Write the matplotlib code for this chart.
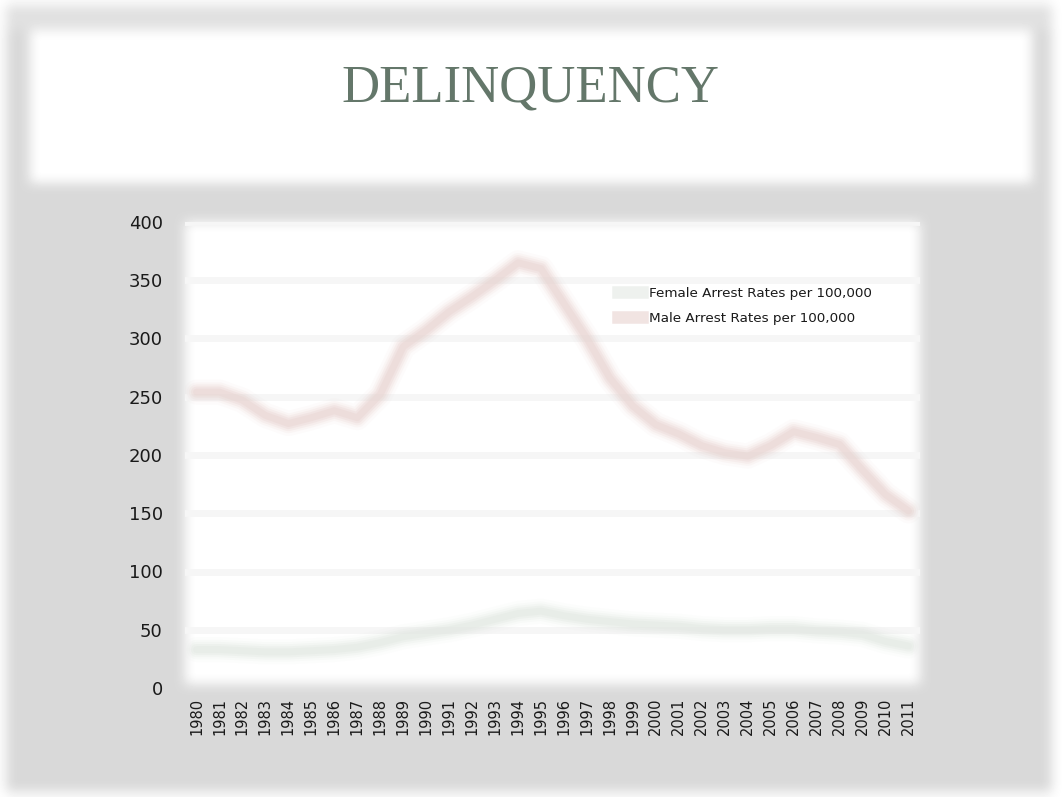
import numpy as np
import matplotlib
matplotlib.use("Agg")
import matplotlib.pyplot as plt

# Dades llegides del gràfic (taxes d'arrest per 100.000)
years = list(range(1980, 2012))
male = [254, 254, 247, 234, 227, 232, 238, 232, 252, 293, 307, 323, 336, 350, 365, 360,
        330, 300, 266, 242, 226, 218, 208, 202, 199, 208, 220, 215, 209, 187, 166, 152]
female = [33, 33, 32, 31, 31, 32, 33, 35, 39, 44, 47, 50, 54, 59, 64, 66,
          62, 59, 57, 55, 54, 53, 51, 50, 50, 51, 51, 49, 48, 46, 40, 36]
y_ticks = [0, 50, 100, 150, 200, 250, 300, 350, 400]
labels = ["Female Arrest Rates per 100,000", "Male Arrest Rates per 100,000"]

W, H = 1062, 797
plot_box = (185, 222, 920, 688)  # esquerra, dalt, dreta, baix (px)


def box_blur(img, r):
    out = img.copy()
    for axis in (0, 1):
        pad = [(0, 0)] * img.ndim
        pad[axis] = (r + 1, r)
        p = np.pad(out, pad, mode="edge")
        c = np.cumsum(p, axis=axis)
        n = out.shape[axis]
        hi = np.take(c, np.arange(2 * r + 1, 2 * r + 1 + n), axis=axis)
        lo = np.take(c, np.arange(0, n), axis=axis)
        out = (hi - lo) / (2 * r + 1)
    return out


# Fons de la diapositiva (difuminat)
bg = np.ones((H, W))
bg[5:792, 6:1052] = 0.85
bg[5:30, 6:1052] = 0.88
bg[30:183, 30:1032] = 1.0
l, t, r, b = plot_box
bg[t:b - 4, l:r] = 1.0
bg = box_blur(box_blur(bg, 6), 6)

fig = plt.figure(figsize=(W / 100, H / 100), dpi=100)
bgax = fig.add_axes([0, 0, 1, 1])
bgax.imshow(bg, cmap="gray", vmin=0, vmax=1, aspect="auto", interpolation="bilinear")
bgax.axis("off")

fig.text(530 / W, 1 - 88 / H, "DELINQUENCY", family="Liberation Serif",
         fontsize=38, color="#64776a", ha="center", va="center")

ax = fig.add_axes([l / W, 1 - b / H, (r - l) / W, (b - t) / H])
ax.set_facecolor("none")
ax.set_xlim(1979.5, 2011.5)
ax.set_ylim(0, 400)

for yv in y_ticks[1:]:
    ax.axhline(yv, color="#f6f6f6", lw=5, zorder=1)

male_col = "#e8d4d0"
female_col = "#e2e8e2"
for w, a in [(18, 0.08), (14, 0.14), (11, 0.22), (8, 0.32), (5, 0.4)]:
    ax.plot(years, female, color=female_col, lw=w, alpha=a, solid_capstyle="round",
            solid_joinstyle="round", zorder=2)
    ax.plot(years, male, color=male_col, lw=w, alpha=a, solid_capstyle="round",
            solid_joinstyle="round", zorder=3)

h1, = ax.plot([], [], color="#eef1ee", lw=9)
h2, = ax.plot([], [], color="#f1e4e2", lw=9)
ax.legend([h1, h2], labels, loc="upper left", bbox_to_anchor=(0.58, 0.875),
          frameon=False, handlelength=1.8, handletextpad=0.5,
          labelspacing=0.9, borderpad=0,
          prop={"family": "DejaVu Sans", "size": 9.7}, labelcolor="#1a1a1a")

ax.set_yticks(y_ticks)
ax.set_yticklabels([str(v) for v in y_ticks], fontsize=13, family="DejaVu Sans",
                   color="#1a1a1a")
ax.set_xticks(years)
ax.set_xticklabels([str(yv) for yv in years], rotation=90, fontsize=10.5,
                   family="DejaVu Sans", color="#1a1a1a")
ax.tick_params(axis="y", length=0, pad=16)
ax.tick_params(axis="x", length=0, pad=7)
for s in ax.spines.values():
    s.set_visible(False)

fig.savefig("out.png", dpi=100)
